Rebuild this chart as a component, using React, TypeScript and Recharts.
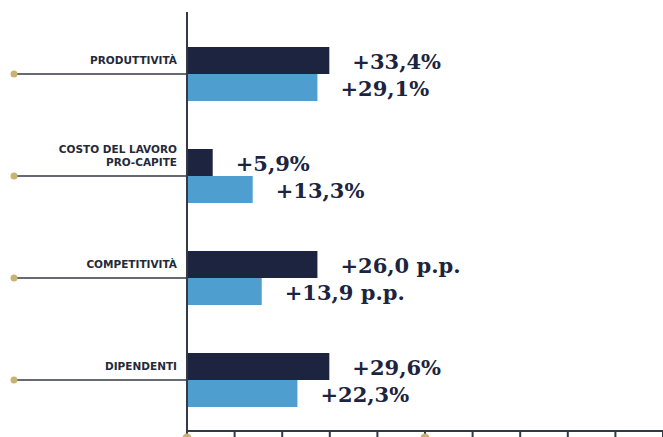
import React from "react";
import { BarChart, Bar, XAxis, YAxis, LabelList } from "recharts";

const categories = ["PRODUTTIVITÀ", "COSTO DEL LAVORO|PRO-CAPITE", "COMPETITIVITÀ", "DIPENDENTI"];
// bar lengths, in axis units (axis 0..100, ticks every 10)
const barsDark = [29.9, 5.4, 27.4, 29.9];
const barsLight = [27.4, 13.8, 15.7, 23.2];
const labelsDark = ["+33,4%", "+5,9%", "+26,0 p.p.", "+29,6%"];
const labelsLight = ["+29,1%", "+13,3%", "+13,9 p.p.", "+22,3%"];
const xTicks = [0, 10, 20, 30, 40, 50, 60, 70, 80, 90, 100];
const goldTicks = [0, 50];

const data = categories.map((c, i) => ({
  cat: c,
  dark: barsDark[i],
  light: barsLight[i],
  labelDark: labelsDark[i],
  labelLight: labelsLight[i],
}));

const NAVY = "#1c2440";
const BLUE = "#4e9ecf";
const GOLD = "#c9b370";
const AXIS = "#353846";

const YTick = (p: any) => {
  const { x, y, payload } = p;
  const lines = String(payload.value).split("|");
  return (
    <g>
      <line x1={14} x2={x} y1={y} y2={y} stroke={AXIS} strokeWidth={1.5} />
      <circle cx={14} cy={y} r={3.5} fill={GOLD} />
      {lines.map((l, i) => (
        <text
          key={i}
          x={177}
          y={y - 10 - (lines.length - 1 - i) * 13}
          textAnchor="end"
          fontFamily="DejaVu Sans, sans-serif"
          fontWeight="bold"
          fontSize={10.5}
          fill="#252a3a"
        >
          {l}
        </text>
      ))}
    </g>
  );
};

const XTick = (p: any) => {
  const { x, y, payload } = p;
  if (goldTicks.indexOf(payload.value) < 0) return <g />;
  return <circle cx={x} cy={y + 1} r={4.5} fill={GOLD} />;
};

const ValueLabel = (p: any) => {
  const { x, y, width, height, value } = p;
  return (
    <text
      x={x + width + 23}
      y={y + height / 2 + 1}
      dominantBaseline="central"
      textAnchor="start"
      fontFamily="DejaVu Serif, serif"
      fontWeight="bold"
      fontSize={21}
      fill={NAVY}
    >
      {value}
    </text>
  );
};

export default function App() {
  return (
    <div style={{ position: "absolute", left: 0, top: 0, width: 663, height: 437, background: "#fff", overflow: "hidden" }}>
      <BarChart
        width={663}
        height={437}
        data={data}
        layout="vertical"
        margin={{ top: 12, right: 0, bottom: 0, left: 0 }}
        barGap={0}
        barSize={27}
      >
        <XAxis
          type="number"
          domain={[0, 100]}
          ticks={xTicks}
          interval={0}
          height={6}
          tickSize={6}
          tickMargin={0}
          axisLine={{ stroke: AXIS, strokeWidth: 2 }}
          tickLine={{ stroke: AXIS, strokeWidth: 2 }}
          tick={<XTick />}
          allowDataOverflow
        />
        <YAxis
          type="category"
          dataKey="cat"
          width={187}
          tickSize={0}
          tickMargin={0}
          padding={{ top: 11, bottom: 0 }}
          axisLine={{ stroke: AXIS, strokeWidth: 2 }}
          tickLine={false}
          tick={<YTick />}
          interval={0}
        />
        <Bar dataKey="dark" fill={NAVY} isAnimationActive={false}>
          <LabelList dataKey="labelDark" content={<ValueLabel />} />
        </Bar>
        <Bar dataKey="light" fill={BLUE} isAnimationActive={false}>
          <LabelList dataKey="labelLight" content={<ValueLabel />} />
        </Bar>
      </BarChart>
    </div>
  );
}
